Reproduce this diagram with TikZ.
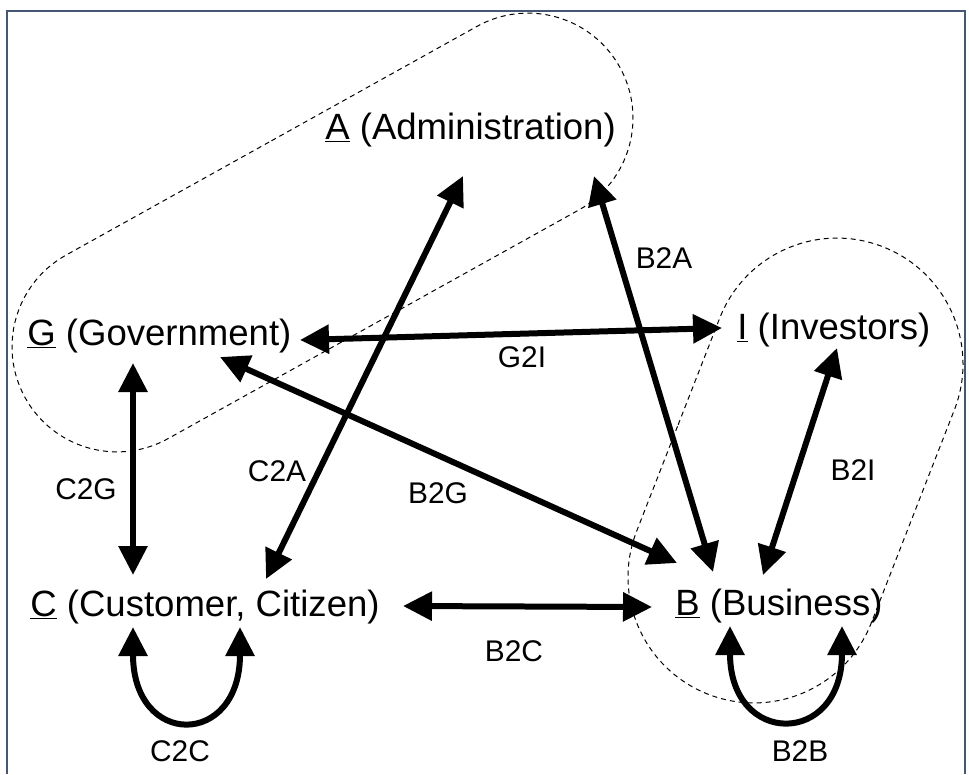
\documentclass[tikz,border=0pt]{standalone}
\usepackage{fontspec}
\setmainfont{Liberation Sans}
\definecolor{framegray}{RGB}{68,88,116}
\usetikzlibrary{arrows.meta,calc,shapes.misc}

\begin{document}
\begin{tikzpicture}[
  x=0.02cm, y=-0.02cm,
  ent/.style={anchor=base west, inner sep=0pt,
              font=\fontsize{20.8}{24}\selectfont},
  lbl/.style={inner sep=0pt, font=\fontsize{17}{20}\selectfont},
  rel/.style={{Triangle[length=0.58cm,width=0.56cm]}-{Triangle[length=0.58cm,width=0.56cm]},
              line width=0.12cm},
  zone/.style={draw, rounded rectangle, inner sep=0pt, line width=0.02cm,
               dash pattern=on 0.1cm off 0.08cm},
  frame/.style={draw=framegray, line width=0.05cm}
]
\useasboundingbox (0,0) rectangle (969,774);

% Frame
\draw[frame] (7,774) -- (7,11) -- (965,11) -- (965,774);

% Groups
\node[zone, minimum width=13.61cm, minimum height=4.2cm, rotate=29.1]
  (govzone) at (322.5,232.5) {};
\node[zone, minimum width=9.61cm, minimum height=5.04cm, rotate=68.7]
  (buszone) at (795.5,470.5) {};

% Actors
\node[ent] (A) at (325,139) {\underline{A} (Administration)};
\node[ent] (G) at (27,345)  {\underline{G} (Government)};
\node[ent] (I) at (737,339) {\underline{I} (Investors)};
\node[ent] (C) at (30,616)  {\underline{C} (Customer, Citizen)};
\node[ent] (B) at (675,615) {\underline{B} (Business)};

% Relations
\draw[rel] ($(C.base west)+(236,-37)$) -- ($(A.base west)+(138,37)$);
\draw[rel] ($(B.base west)+(38,-43)$)  -- ($(A.base west)+(269,37)$);
\draw[rel] ($(G.base west)+(273,-5)$)  -- ($(I.base west)+(-15,-11)$);
\draw[rel] ($(G.base west)+(193,12)$)  -- ($(B.base west)+(2,-52)$);
\draw[rel] ($(C.base west)+(103,-41)$) -- ($(G.base west)+(106,18)$);
\draw[rel] ($(B.base west)+(88,-40)$)  -- ($(I.base west)+(100,9)$);
\draw[rel] ($(C.base west)+(373,-10)$) -- ($(B.base west)+(-23,-8)$);
\draw[rel] ($(C.base west)+(103,11)$) .. controls ($(C.base west)+(103,132)$)
  and ($(C.base west)+(210,132)$) .. ($(C.base west)+(210,11)$);
\draw[rel] ($(B.base west)+(55,11)$) .. controls ($(B.base west)+(55,132)$)
  and ($(B.base west)+(167,132)$) .. ($(B.base west)+(167,11)$);

% Labels
\node[lbl] (lba) at (664,258) {B2A};
\node[lbl] (lgi) at (522,357) {G2I};
\node[lbl] (lca) at (277,471) {C2A};
\node[lbl] (lbg) at (438,493) {B2G};
\node[lbl] (lcg) at (86,489)  {C2G};
\node[lbl] (lbi) at (853,470) {B2I};
\node[lbl] (lbc) at (514,651) {B2C};
\node[lbl] (lcc) at (180,751) {C2C};
\node[lbl] (lbb) at (800,751) {B2B};
\end{tikzpicture}
\end{document}
